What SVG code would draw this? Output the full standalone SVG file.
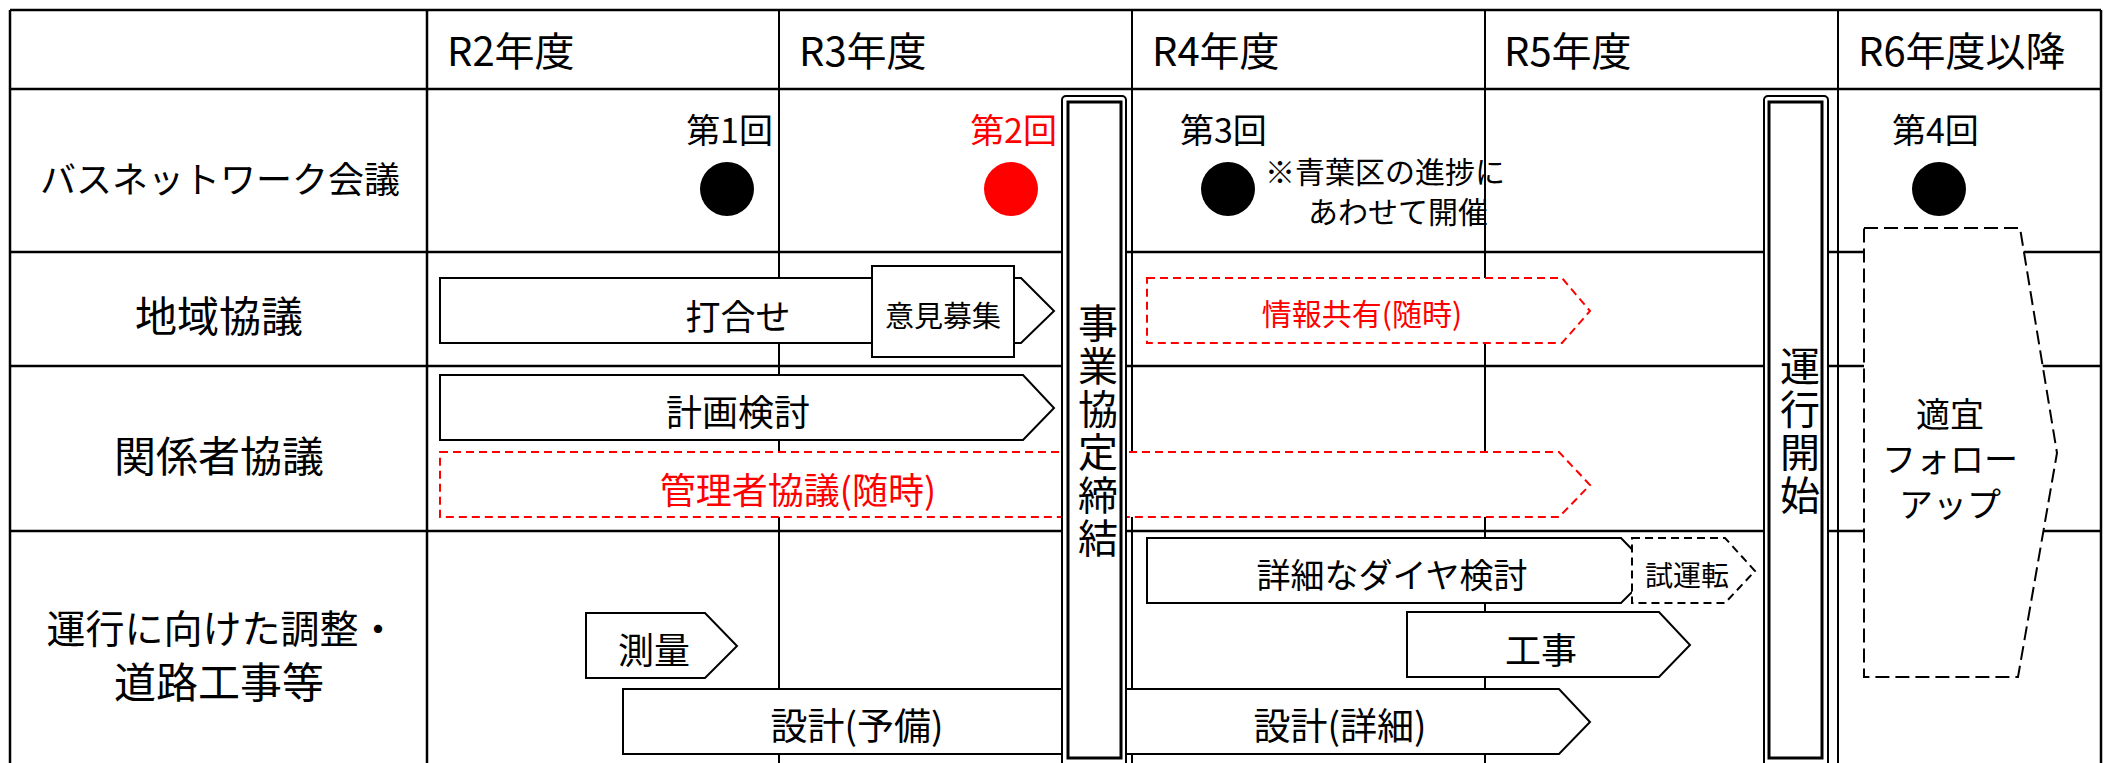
<svg xmlns="http://www.w3.org/2000/svg" width="2109" height="763" viewBox="0 0 2109 763">
<style>
text{font-family:"Noto Sans CJK JP","Noto Sans",sans-serif;fill:#000;dominant-baseline:central}
.grid{stroke:#000;stroke-width:2.5;fill:none}
.shape{fill:#fff;stroke:#000;stroke-width:2}
.red{fill:#fff;stroke:#ff0000;stroke-width:2;stroke-dasharray:8 5}
.dash{fill:#fff;stroke:#000;stroke-width:2;stroke-dasharray:8 5}
.dashl{fill:#fff;stroke:#000;stroke-width:2;stroke-dasharray:14 6}
.rt{fill:#ff0000}
.c{text-anchor:middle}
.outer{fill:#fff;stroke:#000;stroke-width:2}
.inner{fill:#fff;stroke:#000;stroke-width:3}
.vt{writing-mode:vertical-rl;font-size:40px;letter-spacing:3px;text-anchor:start}
</style>
<rect width="2109" height="763" fill="#fff"/>
<g id="grid" class="grid">
<line x1="10" y1="10" x2="2101" y2="10"/>
<line x1="10" y1="89" x2="2101" y2="89"/>
<line x1="10" y1="252" x2="2101" y2="252"/>
<line x1="10" y1="366" x2="2101" y2="366"/>
<line x1="10" y1="531" x2="2101" y2="531"/>
<line x1="10" y1="10" x2="10" y2="763"/>
<line x1="2101" y1="10" x2="2101" y2="763"/>
<line x1="427" y1="10" x2="427" y2="763"/>
<line x1="779" y1="10" x2="779" y2="763" stroke-width="2"/>
<line x1="1132" y1="10" x2="1132" y2="763" stroke-width="2"/>
<line x1="1485" y1="10" x2="1485" y2="763" stroke-width="2"/>
<line x1="1838" y1="10" x2="1838" y2="763" stroke-width="2"/>
</g>
<g id="headers" font-size="40">
<text x="447" y="49">R2年度</text>
<text x="799" y="49">R3年度</text>
<text x="1152" y="49">R4年度</text>
<text x="1504" y="49">R5年度</text>
<text x="1858" y="49">R6年度以降</text>
</g>
<g id="row-labels">
<text class="c" x="220" y="177" font-size="36">バスネットワーク会議</text>
<text class="c" x="219" y="313" font-size="42">地域協議</text>
<text class="c" x="219" y="453" font-size="42">関係者協議</text>
<text class="c" x="222" y="626" font-size="39">運行に向けた調整・</text>
<text class="c" x="219" y="679" font-size="42">道路工事等</text>
</g>
<g id="meeting1">
<text x="773" y="128" font-size="34" text-anchor="end">第1回</text>
<circle cx="727" cy="189" r="27" fill="#000"/>
</g>
<g id="meeting2">
<text class="rt" x="1057" y="128" font-size="34" text-anchor="end">第2回</text>
<circle cx="1011" cy="189" r="27" fill="#ff0000"/>
</g>
<g id="meeting3">
<text x="1180" y="128" font-size="34">第3回</text>
<circle cx="1228" cy="189" r="27" fill="#000"/>
<text x="1265" y="170" font-size="30">※青葉区の進捗に</text>
<text x="1308" y="210" font-size="30">あわせて開催</text>
</g>
<g id="meeting4">
<text x="1892" y="128" font-size="34">第4回</text>
<circle cx="1939" cy="189" r="27" fill="#000"/>
</g>
<g id="uchiawase">
<polygon class="shape" points="440,278 1021,278 1054,311 1021,343 440,343"/>
<text class="c" x="738" y="314" font-size="35">打合せ</text>
</g>
<g id="ikenboshu">
<rect class="shape" x="872" y="266" width="142" height="91"/>
<text class="c" x="943" y="314" font-size="29">意見募集</text>
</g>
<g id="johokyoyu">
<polygon class="red" points="1147,278 1562,278 1590,311 1562,343 1147,343"/>
<text class="c rt" x="1362" y="312" font-size="30">情報共有(随時)</text>
</g>
<g id="keikaku">
<polygon class="shape" points="440,375 1023,375 1054,408 1023,440 440,440"/>
<text class="c" x="738" y="410" font-size="36">計画検討</text>
</g>
<g id="kanrisha">
<polygon class="red" points="440,452 1559,452 1590,485 1559,517 440,517"/>
<text class="c rt" x="798" y="488" font-size="36">管理者協議(随時)</text>
</g>
<g id="sokuryo">
<polygon class="shape" points="586,613 705,613 737,646 705,678 586,678"/>
<text class="c" x="654" y="648" font-size="36">測量</text>
</g>
<g id="sekkei">
<polygon class="shape" points="623,689 1559,689 1590,722 1559,754 623,754"/>
<text class="c" x="857" y="724" font-size="37">設計(予備)</text>
<text class="c" x="1340" y="724" font-size="37">設計(詳細)</text>
</g>
<g id="daiya">
<polygon class="shape" points="1147,538 1621,538 1653,571 1621,603 1147,603"/>
<text class="c" x="1392" y="573" font-size="34">詳細なダイヤ検討</text>
</g>
<g id="shiunten">
<polygon class="dash" points="1632,538 1725,538 1755,571 1725,603 1632,603"/>
<text class="c" x="1687" y="574" font-size="28">試運転</text>
</g>
<g id="koji">
<polygon class="shape" points="1407,612 1659,612 1690,645 1659,677 1407,677"/>
<text class="c" x="1541" y="648" font-size="36">工事</text>
</g>
<g id="followup">
<polygon class="dashl" points="1864,228 2020,228 2057,453 2018,677 1864,677"/>
<text class="c" x="1950" y="412" font-size="34">適宜</text>
<text class="c" x="1950" y="457" font-size="34">フォロー</text>
<text class="c" x="1950" y="502" font-size="34">アップ</text>
</g>
<g id="jigyokyotei">
<rect class="outer" x="1062" y="96" width="64" height="680" rx="4"/>
<rect class="inner" x="1068" y="102" width="53" height="656"/>
<text class="vt" x="1098" y="303">事業協定締結</text>
</g>
<g id="unkokaishi">
<rect class="outer" x="1764" y="96" width="64" height="680" rx="4"/>
<rect class="inner" x="1769" y="102" width="53" height="656"/>
<text class="vt" x="1800" y="346">運行開始</text>
</g>
</svg>
